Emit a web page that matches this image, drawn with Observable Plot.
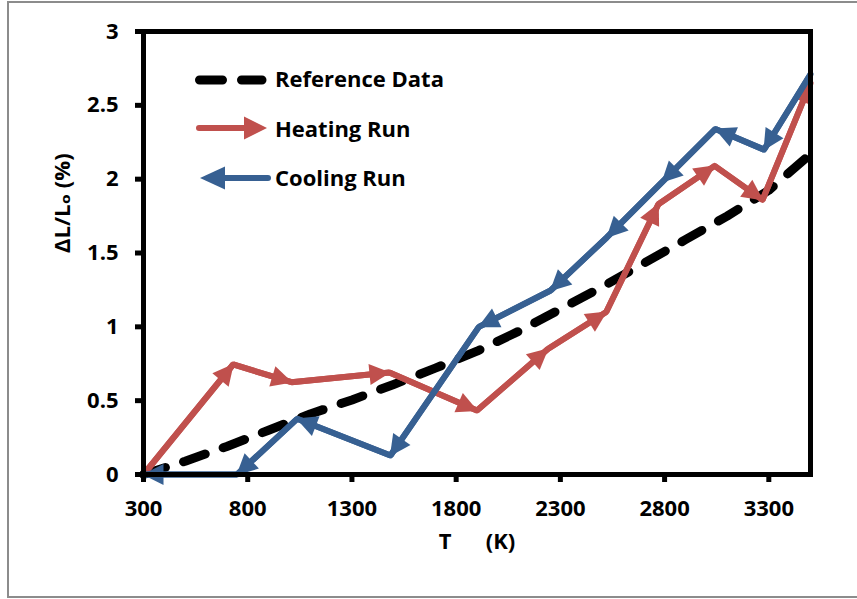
<!DOCTYPE html>
<html>
<head>
<meta charset="utf-8">
<script src="https://cdn.jsdelivr.net/npm/d3@7"></script>
<script src="https://cdn.jsdelivr.net/npm/@observablehq/plot@0.6"></script>
<style>
  body { margin: 0; background: #fff; }
  #wrap { position: relative; width: 857px; height: 599px; overflow: hidden; background: #fff;
          font-family: "Open Sans", "DejaVu Sans", sans-serif; }
  #border { position: absolute; left: 7px; top: 1px; width: 880px; height: 597px;
            border: 2px solid #8c8c8c; box-sizing: border-box; }
  #wrap svg { position: absolute; left: 0; top: 0; }
</style>
</head>
<body>
<div id="wrap"><div id="border"></div></div>
<script>
// ---- data ----
const refT  = [300, 500, 700, 900, 1100, 1300, 1500, 1700, 1900, 2100, 2300, 2500, 2700, 2900, 3100, 3300, 3500];
const refDL = [0, 0.09, 0.19, 0.30, 0.41, 0.505, 0.61, 0.72, 0.835, 0.97, 1.12, 1.27, 1.43, 1.59, 1.75, 1.925, 2.17];

const heatT  = [300, 730, 1010, 1480, 1900, 2240, 2520, 2770, 3040, 3270, 3500];
const heatDL = [0, 0.745, 0.625, 0.69, 0.433, 0.85, 1.10, 1.83, 2.09, 1.86, 2.65];

const coolT  = [3500, 3277, 3044, 2788, 2524, 2253, 1909, 1485, 1037, 749, 300];
const coolDL = [2.71, 2.20, 2.34, 1.98, 1.607, 1.246, 1.0, 0.129, 0.377, 0, 0];

const xTicks = [300, 800, 1300, 1800, 2300, 2800, 3300];
const yTicks = [0, 0.5, 1, 1.5, 2, 2.5, 3];

const seriesNames = ["Reference Data", "Heating Run", "Cooling Run"];
const xTitle = "T\u00a0\u00a0\u00a0\u00a0\u00a0\u00a0(K)";
const yTitle = "\u0394L/L\u2092 (%)";

// ---- styles ----
const RED = "#C0504D";
const BLUE = "#376092";

const toRows = (T, V) => T.map((t, i) => ({t, v: V[i]}));
const ref = toRows(refT, refDL);
const heat = toRows(heatT, heatDL);
const cool = toRows(coolT, coolDL);
const segs = rows => rows.slice(0, -1).map((d, i) => ({x1: d.t, y1: d.v, x2: rows[i + 1].t, y2: rows[i + 1].v}));

const plot = Plot.plot({
  width: 857,
  height: 599,
  marginLeft: 143,
  marginRight: 47,
  marginTop: 31,
  marginBottom: 125,
  x: {domain: [300, 3500]},
  y: {domain: [0, 3]},
  style: {fontFamily: "'Open Sans', 'DejaVu Sans', sans-serif", fontSize: "22px", fontWeight: "bold", color: "#000", background: "transparent"},
  marks: [
    Plot.line(ref, {x: "t", y: "v", stroke: "#000", strokeWidth: 9, strokeDasharray: "23,19", strokeLinecap: "round"}),
    Plot.line(heat, {x: "t", y: "v", stroke: RED, strokeWidth: 6, strokeLinejoin: "round"}),
    Plot.link(segs(heat), {x1: "x1", y1: "y1", x2: "x2", y2: "y2", stroke: RED, strokeWidth: 6, markerEnd: "arrow"}),
    Plot.line(cool, {x: "t", y: "v", stroke: BLUE, strokeWidth: 6, strokeLinejoin: "round"}),
    Plot.link(segs(cool), {x1: "x1", y1: "y1", x2: "x2", y2: "y2", stroke: BLUE, strokeWidth: 6, markerEnd: "arrow"}),
    Plot.axisX({ticks: xTicks, tickSize: 8, tickPadding: 18, strokeWidth: 5, label: null, tickFormat: d => String(d)}),
    Plot.axisY({ticks: yTicks, tickSize: 8, tickPadding: 17, strokeWidth: 5, label: null, tickFormat: d => String(d)}),
    Plot.frame({stroke: "#000", strokeWidth: 5}),
    Plot.text([xTitle], {text: d => d, frameAnchor: "bottom", dy: 74}),
    Plot.text([yTitle], {text: d => d, frameAnchor: "left", dx: -81, rotate: -90})
  ]
});

// filled triangular arrowheads (Excel style)
plot.querySelectorAll("marker").forEach(m => {
  const c = m.getAttribute("stroke");
  m.setAttribute("markerUnits", "userSpaceOnUse");
  m.setAttribute("viewBox", "-24 -12 26 24");
  m.setAttribute("markerWidth", 26);
  m.setAttribute("markerHeight", 24);
  m.setAttribute("refX", 0);
  m.setAttribute("refY", 0);
  m.setAttribute("fill", c);
  m.setAttribute("stroke", "none");
  const p = m.querySelector("path");
  if (p) p.setAttribute("d", "M-20,-10.5L1,0L-20,10.5Z");
});

document.getElementById("wrap").appendChild(plot);

// ---- legend (inside plot area) ----
const ns = "http://www.w3.org/2000/svg";
const leg = document.createElementNS(ns, "svg");
leg.setAttribute("width", 857);
leg.setAttribute("height", 599);
leg.style.pointerEvents = "none";
const el = (tag, attrs) => { const e = document.createElementNS(ns, tag); for (const k in attrs) e.setAttribute(k, attrs[k]); leg.appendChild(e); return e; };
el("line", {x1: 199.5, y1: 80, x2: 262, y2: 80, stroke: "#000", "stroke-width": 9, "stroke-dasharray": "23,19", "stroke-linecap": "round"});
el("line", {x1: 199, y1: 128, x2: 246, y2: 128, stroke: RED, "stroke-width": 6, "stroke-linecap": "round"});
el("path", {d: "M244,116.5L267,128L244,139.5Z", fill: RED});
el("line", {x1: 223, y1: 178, x2: 268, y2: 178, stroke: BLUE, "stroke-width": 6, "stroke-linecap": "round"});
el("path", {d: "M225,166.5L200,178L225,189.5Z", fill: BLUE});
[87, 137, 186].forEach((y, i) => {
  const t = el("text", {x: 275, y, "font-family": "'Open Sans', 'DejaVu Sans', sans-serif", "font-size": 22, "font-weight": "bold", fill: "#000"});
  t.textContent = seriesNames[i];
});
document.getElementById("wrap").appendChild(leg);
</script>
</body>
</html>
